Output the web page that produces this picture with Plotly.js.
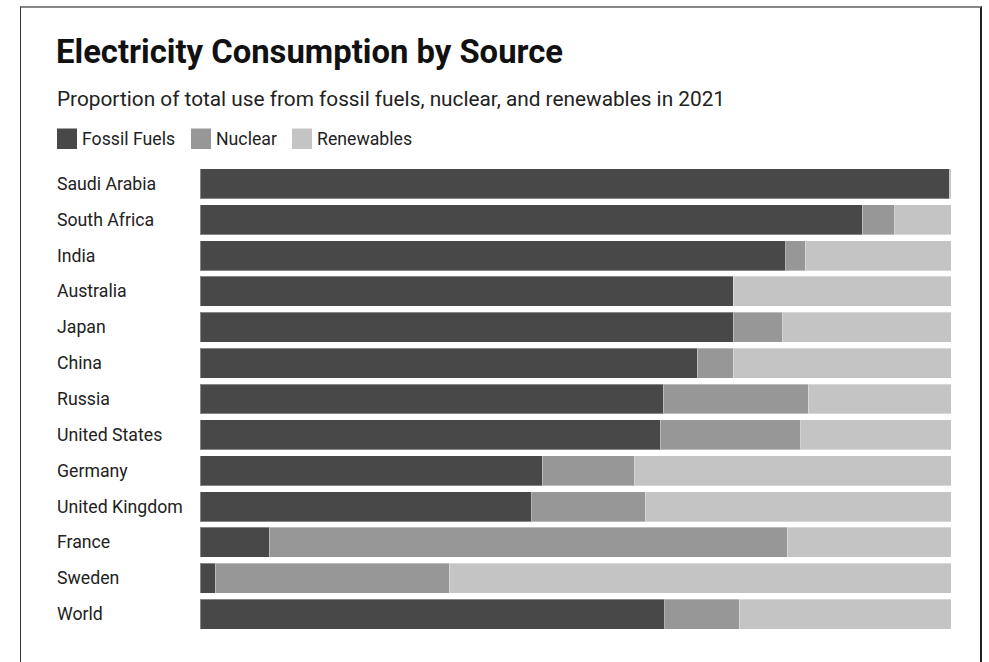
<!DOCTYPE html>
<html>
<head>
<meta charset="utf-8">
<script src="https://cdn.plot.ly/plotly-3.0.1.min.js"></script>
<style>
  html, body { margin: 0; padding: 0; background: #fff; }
  #chart { position: absolute; left: 0; top: 0; width: 989px; height: 662px; }
  #frame { position: absolute; left: 20px; top: 6px; width: 962px; height: 700px; box-sizing: border-box;
           border-left: 1px solid #333; border-top: 2px solid #888; border-right: 2px solid #222; pointer-events: none; }
</style>
</head>
<body>
<div id="chart"></div>
<div id="frame"></div>
<script>
const countries = ["Saudi Arabia", "South Africa", "India", "Australia", "Japan", "China", "Russia",
  "United States", "Germany", "United Kingdom", "France", "Sweden", "World"];
const fossil = [99.8, 88.2, 78.0, 71.0, 71.0, 66.2, 61.7, 61.3, 45.6, 44.2, 9.2, 2.0, 61.9];
const nuclear = [0, 4.3, 2.6, 0, 6.6, 4.8, 19.3, 18.7, 12.3, 15.1, 69.0, 31.2, 9.9];
const renewables = [0.2, 7.5, 19.4, 29.0, 22.4, 29.0, 19.0, 20.0, 42.1, 40.7, 21.8, 66.8, 28.2];
const seriesNames = ["Fossil Fuels", "Nuclear", "Renewables"];
const colors = ["#484848", "#979797", "#c4c4c4"];
const titleText = "Electricity Consumption by Source";
const subtitleText = "Proportion of total use from fossil fuels, nuclear, and renewables in 2021";

const values = [fossil, nuclear, renewables];
const traces = values.map((v, i) => ({
  type: "bar", orientation: "h", y: countries, x: v, name: seriesNames[i],
  marker: { color: colors[i], line: { color: "rgba(255,255,255,0.35)", width: 1 } },
  hoverinfo: "x+y+name", showlegend: false
}));

const FONT = "Roboto, 'Noto Sans', sans-serif";
const annotations = [];
const shapes = [];

// subtitle
annotations.push({ xref: "paper", yref: "paper", x: 0, y: 1, xshift: -145, yshift: 67,
  xanchor: "left", yanchor: "middle", showarrow: false, text: subtitleText,
  font: { family: FONT, size: 20.8, color: "#222" } });

// legend
const legX = [57, 191, 292];
legX.forEach((px, i) => {
  shapes.push({ type: "rect", xref: "paper", yref: "paper", xsizemode: "pixel", ysizemode: "pixel",
    xanchor: 0, yanchor: 1, x0: px - 200, x1: px - 200 + 20, y0: 166 - 149, y1: 166 - 128.5,
    fillcolor: colors[i], line: { width: 0 } });
  annotations.push({ xref: "paper", yref: "paper", x: 0, y: 1, xshift: px - 200 + 23, yshift: 166 - 138.5,
    xanchor: "left", yanchor: "middle", showarrow: false, text: seriesNames[i],
    font: { family: FONT, size: 17.7, color: "#222" } });
});

// category labels (left aligned)
countries.forEach(c => {
  annotations.push({ xref: "paper", yref: "y", x: 0, y: c, xshift: -145, xanchor: "left", yanchor: "middle",
    showarrow: false, text: c, font: { family: FONT, size: 17.7, color: "#222" } });
});

const layout = {
  width: 989, height: 662,
  margin: { l: 200, r: 38, t: 166, b: 30, pad: 0 },
  paper_bgcolor: "#fff", plot_bgcolor: "#fff",
  barmode: "stack", bargap: 0.164,
  title: { text: "<b>" + titleText + "</b>", xref: "container", yref: "container",
    x: 56 / 989, xanchor: "left", y: 1 - 52 / 662, yanchor: "middle",
    font: { family: FONT, size: 32.8, color: "#111" } },
  xaxis: { range: [0, 100], visible: false, fixedrange: true },
  yaxis: { type: "category", autorange: "reversed", showticklabels: false, showgrid: false,
    zeroline: false, showline: false, ticks: "", fixedrange: true },
  showlegend: false,
  annotations: annotations, shapes: shapes
};

Plotly.newPlot("chart", traces, layout, { displayModeBar: false, staticPlot: false });
</script>
</body>
</html>
